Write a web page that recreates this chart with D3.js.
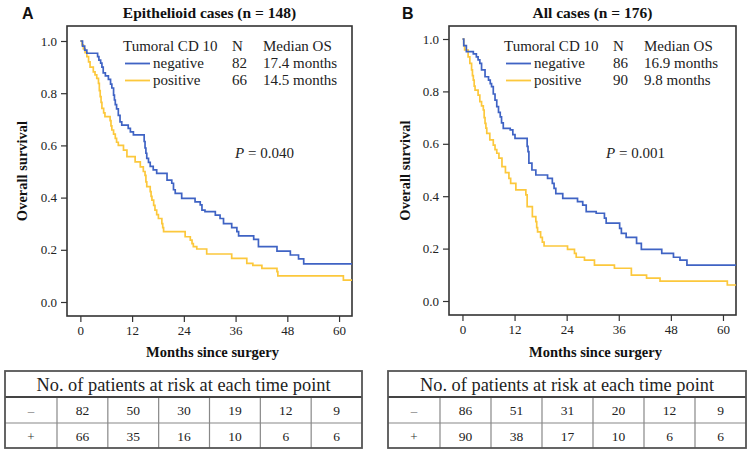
<!DOCTYPE html>
<html><head><meta charset="utf-8">
<script src="https://cdn.jsdelivr.net/npm/d3@7"></script>
<style>body{margin:0;background:#fff}svg{display:block}text{font-family:"Liberation Serif","Times New Roman",serif;fill:#222}</style>
</head><body>
<div id="chart"></div>
<script>
// ---- data ----
const xTicks = [0, 12, 24, 36, 48, 60];
const yTicks = [0.0, 0.2, 0.4, 0.6, 0.8, 1.0];
const groupLabels = ["negative", "positive"];
const riskRowLabels = ["\u2013", "+"];

const titleA = "Epithelioid cases (n = 148)";
const nA = [82, 66];
const medianA = ["17.4 months", "14.5 months"];
const pA = "0.040";
const riskNegA = [82, 50, 30, 19, 12, 9];
const riskPosA = [66, 35, 16, 10, 6, 6];
const negA = [[0,1.0],[0.5,0.98],[1.0,0.965],[1.5,0.953],[4.0,0.94],[4.3,0.927],[4.7,0.915],[5.0,0.90],[5.3,0.878],[5.8,0.866],[6.5,0.853],[7.0,0.835],[7.3,0.82],[7.7,0.793],[7.9,0.774],[8.1,0.756],[8.4,0.74],[8.8,0.715],[9.2,0.69],[9.6,0.678],[11.1,0.665],[11.6,0.652],[12.3,0.64],[14.8,0.615],[15.0,0.59],[15.2,0.57],[15.4,0.55],[15.8,0.535],[16.2,0.52],[16.9,0.506],[17.7,0.493],[20.1,0.467],[21.2,0.455],[21.6,0.43],[22.0,0.416],[23.5,0.397],[26.6,0.384],[27.8,0.372],[28.2,0.352],[28.9,0.346],[31.3,0.333],[32.4,0.32],[33.2,0.30],[35.1,0.285],[36.3,0.27],[36.7,0.253],[40.2,0.24],[41.3,0.212],[45.6,0.195],[48.7,0.18],[50.6,0.165],[51.8,0.146],[63,0.146]];
const posA = [[0,1.0],[0.4,0.985],[0.7,0.97],[1.1,0.955],[1.5,0.94],[1.9,0.92],[2.25,0.90],[3.0,0.882],[3.4,0.87],[3.8,0.857],[4.2,0.838],[4.4,0.81],[4.6,0.787],[4.8,0.765],[5.0,0.742],[5.4,0.725],[5.7,0.71],[6.9,0.695],[7.1,0.675],[7.3,0.659],[7.7,0.643],[8.1,0.627],[8.4,0.612],[8.8,0.60],[10,0.582],[10.8,0.557],[12.7,0.537],[13.9,0.518],[14.6,0.50],[15.0,0.485],[15.2,0.46],[15.4,0.442],[16.2,0.423],[16.4,0.405],[16.6,0.39],[17.0,0.37],[17.3,0.352],[17.7,0.335],[18.1,0.32],[18.9,0.30],[19.1,0.285],[19.3,0.27],[24.3,0.25],[25.5,0.237],[25.9,0.224],[26.2,0.212],[27.0,0.203],[29.3,0.184],[35.1,0.167],[38.6,0.148],[40.0,0.14],[42.1,0.129],[45.6,0.116],[45.8,0.10],[61.0,0.084],[63,0.084]];

const titleB = "All cases (n = 176)";
const nB = [86, 90];
const medianB = ["16.9 months", "9.8 months"];
const pB = "0.001";
const riskNegB = [86, 51, 31, 20, 12, 9];
const riskPosB = [90, 38, 17, 10, 6, 6];
const negB = [[0,1.0],[0.3,0.975],[0.9,0.952],[2.5,0.943],[3.2,0.932],[3.6,0.92],[4.0,0.907],[4.4,0.882],[5.2,0.856],[6.0,0.843],[6.4,0.83],[6.7,0.818],[7.1,0.79],[7.5,0.767],[7.9,0.742],[8.3,0.72],[8.7,0.703],[9.0,0.68],[9.4,0.659],[11.0,0.653],[11.6,0.635],[12.1,0.621],[14.9,0.59],[15.1,0.57],[15.3,0.526],[16.0,0.50],[16.9,0.481],[19.6,0.468],[20.7,0.449],[21.1,0.43],[21.5,0.41],[23.1,0.392],[26.5,0.379],[27.7,0.366],[28.5,0.341],[30.8,0.335],[32.7,0.316],[33.1,0.297],[36.2,0.277],[36.6,0.258],[37.7,0.243],[40.1,0.22],[41.2,0.197],[45.9,0.182],[48.6,0.167],[50.1,0.156],[51.7,0.137],[63,0.137]];
const posB = [[0,1.0],[0.3,0.975],[0.5,0.958],[1.3,0.932],[1.7,0.907],[2.1,0.882],[2.3,0.86],[2.5,0.843],[2.7,0.82],[2.9,0.805],[3.6,0.786],[4.0,0.761],[4.4,0.745],[4.8,0.729],[5.0,0.70],[5.2,0.678],[5.4,0.66],[5.6,0.64],[6.3,0.615],[7.1,0.595],[7.5,0.578],[7.9,0.564],[8.4,0.545],[9.1,0.513],[9.9,0.49],[10.7,0.468],[11.1,0.449],[12.3,0.424],[14.6,0.405],[14.9,0.36],[16.1,0.322],[16.9,0.303],[17.1,0.28],[17.3,0.264],[18.0,0.243],[18.4,0.225],[18.8,0.21],[24.2,0.197],[25.8,0.182],[26.2,0.167],[28.1,0.156],[30.4,0.137],[35.0,0.125],[38.9,0.099],[42.4,0.087],[45.5,0.076],[61,0.061],[63,0.061]];

// ---- style ----
const BLUE = "#3f63c4", YELLOW = "#fcc83c", DARK = "#333";
const W = 751, H = 454;
const svg = d3.select("#chart").append("svg").attr("width", W).attr("height", H);

function panel(o) {
  const g = svg.append("g");
  const x = d3.scaleLinear().domain([-3.1, 63]).range([o.left, o.right]);
  const y = d3.scaleLinear().domain([0, 1]).range([o.y0, o.y1]);
  g.append("text").attr("x", o.letterX).attr("y", 19).text(o.letter)
    .style("font-family", "'Liberation Sans',Arial,sans-serif").style("font-weight", "bold").style("font-size", "16px").style("fill", "#111");
  g.append("text").attr("x", (o.left + o.right) / 2).attr("y", 18).attr("text-anchor", "middle")
    .style("font-weight", "bold").style("font-size", "15.5px").style("fill", "#111").text(o.title);
  const ya = g.append("g").attr("transform", `translate(${o.left},0)`)
    .call(d3.axisLeft(y).tickValues(yTicks).tickFormat(d3.format(".1f")).tickSize(6).tickPadding(4));
  const xa = g.append("g").attr("transform", `translate(0,${o.bottom})`)
    .call(d3.axisBottom(x).tickValues(xTicks).tickSize(6).tickPadding(4));
  [ya, xa].forEach(a => {
    a.select(".domain").remove();
    a.selectAll("line").attr("stroke", DARK).attr("stroke-width", 1.2);
    a.selectAll("text").style("font-family", "'Liberation Serif',serif").style("font-size", "13px").attr("fill", "#222");
  });
  g.append("rect").attr("x", o.left).attr("y", o.top).attr("width", o.right - o.left).attr("height", o.bottom - o.top)
    .attr("fill", "none").attr("stroke", DARK).attr("stroke-width", 1.6);
  const line = d3.line().x(d => x(d[0])).y(d => y(d[1])).curve(d3.curveStepAfter);
  g.append("path").datum(o.pos).attr("d", line).attr("fill", "none").attr("stroke", YELLOW).attr("stroke-width", 1.7);
  g.append("path").datum(o.neg).attr("d", line).attr("fill", "none").attr("stroke", BLUE).attr("stroke-width", 1.7);
  g.append("text").attr("x", (o.left + o.right) / 2 + 3).attr("y", 357).attr("text-anchor", "middle")
    .style("font-weight", "bold").style("font-size", "14.5px").style("fill", "#111").text("Months since surgery");
  g.append("text").attr("transform", `translate(${o.yTitleX},${(o.top + o.bottom) / 2}) rotate(-90)`).attr("text-anchor", "middle")
    .style("font-weight", "bold").style("font-size", "14.5px").style("fill", "#111").text("Overall survival");
  const fs = "15px";
  g.append("text").attr("x", o.legX).attr("y", 51).style("font-size", fs).text("Tumoral CD 10");
  g.append("text").attr("x", o.nX).attr("y", 51).style("font-size", fs).text("N");
  g.append("text").attr("x", o.mX).attr("y", 51).style("font-size", fs).text("Median OS");
  [BLUE, YELLOW].forEach((c, i) => {
    const yy = 68 + i * 17;
    g.append("line").attr("x1", o.legX + 2).attr("x2", o.legX + 27).attr("y1", yy - 4.5).attr("y2", yy - 4.5)
      .attr("stroke", c).attr("stroke-width", 1.8);
    g.append("text").attr("x", o.legX + 30).attr("y", yy).style("font-size", fs).text(groupLabels[i]);
    g.append("text").attr("x", o.nX).attr("y", yy).style("font-size", fs).text(o.n[i]);
    g.append("text").attr("x", o.mX).attr("y", yy).style("font-size", fs).text(o.median[i]);
  });
  const pt = g.append("text").attr("x", o.pX).attr("y", 158).style("font-size", "15px");
  pt.append("tspan").style("font-style", "italic").text("P");
  pt.append("tspan").text(" = " + o.p);
  const t = g.append("g");
  const tl = o.tLeft, tr = o.tRight, tt = 371, r1 = 397, r2 = 423, tb = 448;
  const colEdges = [tl, o.c0].concat(d3.range(1, 7).map(i => o.c0 + i * (tr - o.c0) / 6));
  t.append("text").attr("x", (tl + tr) / 2).attr("y", 391).attr("text-anchor", "middle")
    .style("font-size", "18.5px").attr("textLength", 294).attr("lengthAdjust", "spacingAndGlyphs")
    .text("No. of patients at risk at each time point");
  [o.riskNeg, o.riskPos].forEach((row, ri) => {
    const yy = (ri === 0 ? r1 : r2) + 17.5;
    t.append("text").attr("x", (colEdges[0] + colEdges[1]) / 2).attr("y", yy).attr("text-anchor", "middle")
      .style("font-size", "13px").style("fill", ri === 0 ? "#777" : "#333").text(riskRowLabels[ri]);
    row.forEach((v, i) => {
      t.append("text").attr("x", (colEdges[i + 1] + colEdges[i + 2]) / 2).attr("y", yy).attr("text-anchor", "middle")
        .style("font-size", "13.5px").text(v);
    });
  });
  colEdges.slice(1, -1).forEach(cx => t.append("line").attr("x1", cx).attr("x2", cx).attr("y1", r1).attr("y2", tb)
    .attr("stroke", "#888").attr("stroke-width", 1.2));
  t.append("line").attr("x1", tl).attr("x2", tr).attr("y1", r2).attr("y2", r2).attr("stroke", "#888").attr("stroke-width", 1.2);
  t.append("line").attr("x1", tl).attr("x2", tr).attr("y1", r1).attr("y2", r1).attr("stroke", "#444").attr("stroke-width", 1.8);
  t.append("rect").attr("x", tl).attr("y", tt).attr("width", tr - tl).attr("height", tb - tt)
    .attr("fill", "none").attr("stroke", "#555").attr("stroke-width", 1.8);
}

panel({ letter: "A", letterX: 22, title: titleA, left: 67, right: 352, top: 26, bottom: 316, y0: 302, y1: 41,
  yTitleX: 27, legX: 123, nX: 232, mX: 263, pX: 235, n: nA, median: medianA, p: pA,
  neg: negA, pos: posA, riskNeg: riskNegA, riskPos: riskPosA, tLeft: 5, tRight: 362, c0: 57 });
panel({ letter: "B", letterX: 402, title: titleB, left: 449, right: 736, top: 26, bottom: 315, y0: 301, y1: 39,
  yTitleX: 410, legX: 504, nX: 613, mX: 644, pX: 606, n: nB, median: medianB, p: pB,
  neg: negB, pos: posB, riskNeg: riskNegB, riskPos: riskPosB, tLeft: 388, tRight: 746, c0: 440 });
</script>
</body></html>
